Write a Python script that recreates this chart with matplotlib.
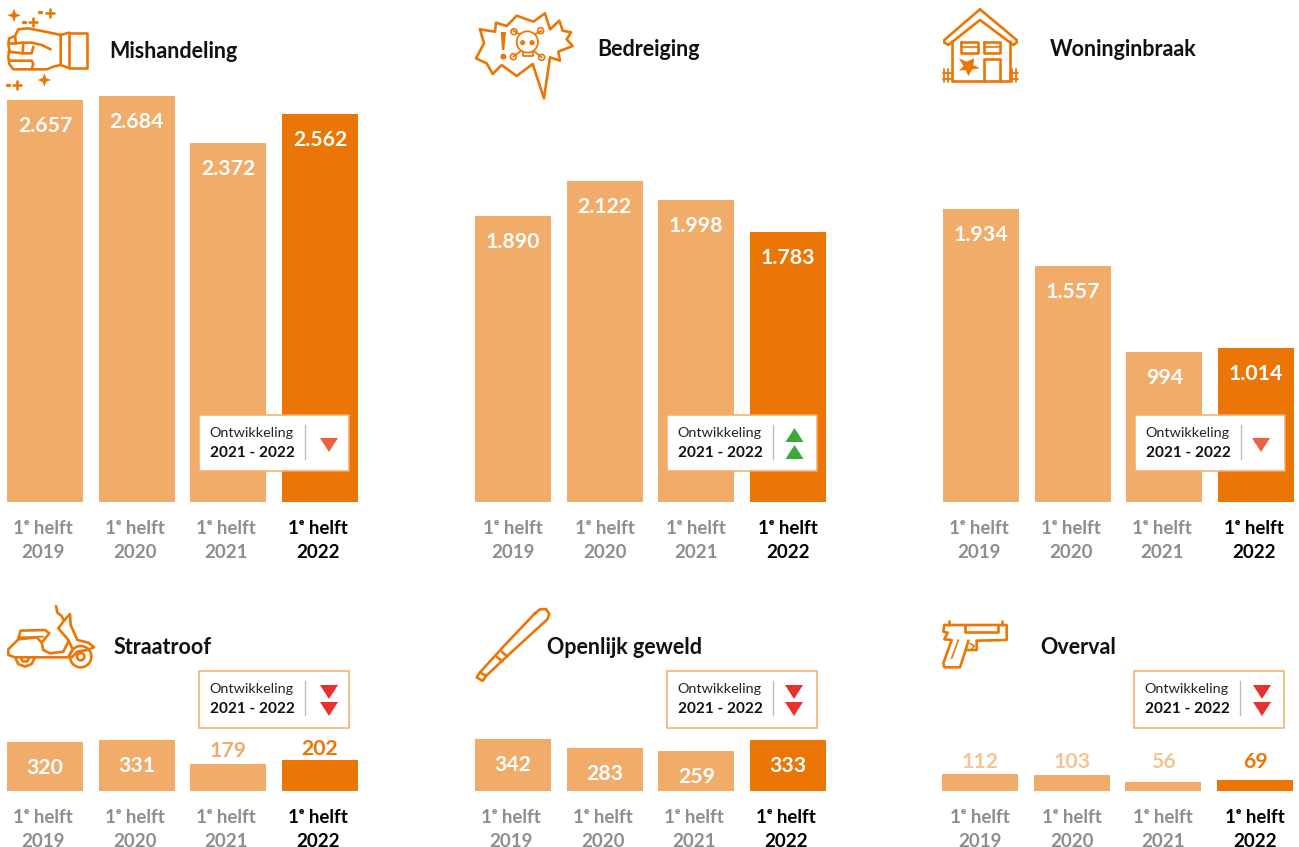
import matplotlib
matplotlib.use("Agg")
import matplotlib.pyplot as plt
from matplotlib.patches import Circle, Polygon, Rectangle

plt.rcParams['font.family'] = ['Lato', 'DejaVu Sans']

# data
titles = ["Mishandeling", "Bedreiging", "Woninginbraak", "Straatroof", "Openlijk geweld", "Overval"]
years = ["2019", "2020", "2021", "2022"]
mishandeling = [2657, 2684, 2372, 2562]
bedreiging = [1890, 2122, 1998, 1783]
woninginbraak = [1934, 1557, 994, 1014]
straatroof = [320, 331, 179, 202]
openlijk_geweld = [342, 283, 259, 333]
overval = [112, 103, 56, 69]
series = [mishandeling, bedreiging, woninginbraak, straatroof, openlijk_geweld, overval]
trend = ["down1", "up2", "down1", "down2", "down2", "down2"]

# colours
ORANGE = "#EC7605"
LIGHT = "#F2AC69"
GREY = "#8E8E8E"

W, H = 1299, 847
STEP = 275 / 3  # px between bars
BAR_W = 76

# layout in pixels, one row per panel
bar_left = [7, 475, 943, 7, 475, 942]
baseline = [502, 502, 502, 791, 791, 791]
px_per_unit = [0.1514, 0.1514, 0.1514, 0.1535, 0.1535, 0.1535]
label_shift = [-2, 0, -2, -2, -2, 0]
title_pos = [(109, 52), (597, 50), (1050, 50), (114, 648), (547, 648), (1040, 648)]
box_pos = [(199, 415), (667, 415), (1135, 415), (199, 671), (667, 671), (1134, 671)]
tri_x = [329, 794.5, 1261, 329, 794, 1262]
# gap between bar top and a label above the bar
above_gap = {179: 14, 202: 12, 112: 13, 103: 14, 56: 21, 69: 19}

fig = plt.figure(figsize=(W / 100, H / 100), dpi=100)


def panel(k):
    vals = series[k]
    top = 420
    ax = fig.add_axes([(bar_left[k] - (STEP - BAR_W) / 2) / W, 1 - baseline[k] / H,
                       4 * STEP / W, top / H])
    ax.patch.set_visible(False)
    cols = [LIGHT, LIGHT, LIGHT, ORANGE]
    ax.bar(range(4), vals, width=BAR_W / STEP, color=cols)
    ax.set_xlim(-0.5, 3.5)
    ax.set_ylim(0, top / px_per_unit[k])
    for s in ax.spines.values():
        s.set_visible(False)
    ax.set_yticks([])
    shift = label_shift[k] / STEP
    ax.set_xticks([i + shift for i in range(4)])
    ax.set_xticklabels(["1ᵉ helft\n" + y for y in years], fontsize=13.5, fontweight='bold',
                       linespacing=1.52)
    ax.tick_params(axis='x', length=0, pad=12.7)
    for i, lab in enumerate(ax.get_xticklabels()):
        lab.set_color("black" if i == 3 else GREY)
    for i, v in enumerate(vals):
        txt = f"{v:,}".replace(",", ".")
        if v >= 250:
            col, dy = "white", -26
        else:
            col, dy = (ORANGE if i == 3 else LIGHT), above_gap[v] - 1
            if v < 150 and i < 3:
                col = "#F6C393"
        ax.annotate(txt, (i, v), xytext=(0, dy * 0.72), textcoords='offset points',
                    ha='center', va='center', color=col, fontsize=15.3, fontweight='bold')


for k in range(6):
    panel(k)

# overlay in pixel coordinates for titles, boxes and icons
ov = fig.add_axes([0, 0, 1, 1], zorder=10)
ov.set_xlim(0, W)
ov.set_ylim(H, 0)
ov.axis('off')

for k in range(6):
    ov.text(title_pos[k][0], title_pos[k][1], titles[k], fontsize=15.5, fontweight='bold',
            ha='left', va='center', color="#111111")


def tri(cx, y0, y1, col, up=False):
    a, b = (y1, y0) if up else (y0, y1)
    ov.add_patch(Polygon([(cx - 9, a), (cx + 9, a), (cx, b)], closed=True, fc=col, ec='none'))


def callout(k):
    x, y = box_pos[k]
    h = 56 if y < 500 else 57
    ov.add_patch(Rectangle((x, y), 150, h, fc='white', ec=LIGHT, lw=1.1))
    ov.text(x + 10.5, y + 18, "Ontwikkeling", fontsize=10.4, ha='left', va='center', color="#222222")
    ov.text(x + 11, y + 38, "2021 - 2022", fontsize=11.1, fontweight='bold', ha='left', va='center', color="#111111")
    ov.plot([x + 106, x + 106], [y + 10, y + 44], color="#BDBDBD", lw=1)
    cx = tri_x[k]
    if trend[k] == "down1":
        tri(cx, y + 23, y + 37, "#EE6044")
    elif trend[k] == "up2":
        tri(cx, y + 13, y + 27, "#3DA73A", up=True)
        tri(cx, y + 30, y + 44, "#3DA73A", up=True)
    else:
        tri(cx, y + 14, y + 28, "#E8302F")
        tri(cx, y + 31, y + 45, "#E8302F")


for k in range(6):
    callout(k)

LW = 1.9


def path(pts, ox, oy, closed=False, lw=LW, fill=None):
    p = [(ox + a / 3, oy + b / 3) for a, b in pts]
    if closed:
        p.append(p[0])
    if fill:
        ov.add_patch(Polygon(p, closed=True, fc=fill, ec='none'))
    else:
        ov.plot([q[0] for q in p], [q[1] for q in p], color=ORANGE, lw=lw,
                solid_capstyle='round', solid_joinstyle='round')


def ring(a, b, r, ox, oy, lw=LW):
    ov.add_patch(Circle((ox + a / 3, oy + b / 3), r / 3, fc='none', ec=ORANGE, lw=lw))


def star(a, b, r, ox, oy):
    s = r * 0.28
    path([(a, b - r), (a + s, b - s), (a + r, b), (a + s, b + s), (a, b + r), (a - s, b + s),
          (a - r, b), (a - s, b - s)], ox, oy, fill=ORANGE)


def plus(a, b, r, ox, oy):
    path([(a - r, b), (a + r, b)], ox, oy)
    path([(a, b - r), (a, b + r)], ox, oy)


# fist
path([(207, 98), (260, 98), (260, 204), (207, 204)], 0, 0, closed=True)
path([(207, 98), (182, 105), (182, 195), (207, 204)], 0, 0)
path([(182, 105), (150, 98), (85, 85), (55, 88), (45, 108), (28, 115), (25, 130), (28, 150),
      (25, 170), (28, 192), (40, 208), (140, 208), (160, 200), (182, 195)], 0, 0)
path([(45, 108), (48, 130), (65, 128), (95, 128), (125, 135), (152, 148)], 0, 0)
path([(70, 128), (68, 160), (95, 160), (100, 140)], 0, 0)
path([(28, 130), (48, 130)], 0, 0)
path([(26, 155), (68, 160)], 0, 0)
path([(28, 182), (95, 182), (100, 192), (95, 206)], 0, 0)
star(42, 46, 20, 0, 0)
star(133, 240, 20, 0, 0)
plus(150, 38, 12, 0, 0)
plus(98, 67, 12, 0, 0)
plus(52, 256, 12, 0, 0)
for a, b in [(121, 37), (71, 67), (25, 254)]:
    path([(a - 3, b), (a + 3, b)], 0, 0, lw=2.4)

# threat balloon
ox = 470
path([(30, 88), (75, 95), (78, 68), (110, 78), (140, 47), (190, 65), (225, 40), (240, 88), (268, 62),
      (278, 92), (303, 97), (290, 118), (308, 138), (265, 155), (270, 182), (240, 172), (222, 295),
      (188, 192), (140, 228), (95, 195), (68, 222), (50, 190), (18, 175), (42, 130)],
     ox, 0, closed=True)
path([(92, 96), (108, 96), (103, 150), (96, 150)], ox, 0, fill=ORANGE)
ov.add_patch(Circle((ox + 100 / 3, 170 / 3), 3, fc=ORANGE, ec='none'))
ring(172, 126, 32, ox, 0, lw=1.3)
path([(158, 155), (158, 168), (188, 168), (188, 155)], ox, 0, lw=1.3)
ov.add_patch(Circle((ox + 158 / 3, 128 / 3), 2.6, fc=ORANGE, ec='none'))
ov.add_patch(Circle((ox + 186 / 3, 128 / 3), 2.6, fc=ORANGE, ec='none'))
path([(148, 102), (130, 92)], ox, 0, lw=1.3)
path([(196, 102), (215, 92)], ox, 0, lw=1.3)
path([(150, 155), (130, 170)], ox, 0, lw=1.3)
path([(194, 155), (215, 172)], ox, 0, lw=1.3)
for a, b in [(132, 95), (212, 92), (130, 170), (215, 172)]:
    ring(a, b, 9, ox, 0, lw=1.2)

# house
ox = 935
path([(135, 28), (245, 120), (245, 128), (235, 135), (135, 60), (40, 135), (28, 128), (28, 120)], ox, 0,
     closed=True)
path([(50, 122), (50, 242), (225, 242), (225, 122)], ox, 0)
path([(78, 125), (130, 125), (130, 158), (78, 158)], ox, 0, closed=True)
path([(78, 140), (130, 140)], ox, 0, lw=1.2)
path([(146, 125), (195, 125), (195, 158), (146, 158)], ox, 0, closed=True)
path([(146, 140), (195, 140)], ox, 0, lw=1.2)
path([(147, 242), (147, 178), (195, 178), (195, 242)], ox, 0)
path([(72, 175), (95, 185), (118, 175), (115, 195), (135, 205), (112, 208), (100, 228), (92, 210), (72, 212),
      (85, 198)], ox, 0, fill=ORANGE)
for a in [28, 38, 232, 244]:
    path([(a, 208), (a, 245)], ox, 0, lw=1.3)
path([(25, 220), (50, 220)], ox, 0, lw=1.3)
path([(25, 236), (50, 236)], ox, 0, lw=1.3)
path([(225, 220), (248, 220)], ox, 0, lw=1.3)
path([(225, 236), (248, 236)], ox, 0, lw=1.3)

# scooter
oy = 600
path([(168, 18), (172, 38), (185, 48), (192, 62), (175, 85), (205, 120), (218, 148), (205, 172), (45, 172),
      (25, 165), (25, 148), (55, 118), (110, 112), (125, 128), (130, 150), (150, 160), (190, 155), (205, 125)],
     0, oy)
path([(192, 62), (210, 42), (212, 75), (232, 120), (265, 128), (282, 142), (262, 150), (232, 155), (215, 172)],
     0, oy)
path([(55, 115), (62, 92), (135, 90), (148, 100), (125, 128)], 0, oy)
path([(60, 112), (130, 110)], 0, oy, lw=1.3)
ring(242, 170, 32, 0, oy)
ring(242, 170, 11, 0, oy)
path([(45, 172), (55, 192), (75, 200), (95, 192), (105, 172)], 0, oy)
path([(62, 172), (68, 184), (82, 184), (88, 172)], 0, oy)

# bat
ox, oy = 470, 600
path([(195, 40), (210, 28), (228, 27), (238, 42), (232, 58), (115, 165), (48, 228), (38, 243), (20, 232),
      (30, 217), (100, 140)], ox, oy, closed=True)
path([(30, 217), (48, 228)], ox, oy)
path([(80, 170), (97, 184)], ox, oy)
path([(95, 155), (112, 170)], ox, oy)

# gun
ox, oy = 935, 610
path([(28, 45), (215, 45), (215, 90), (125, 92), (125, 120), (92, 120), (75, 172), (28, 172), (25, 160), (50, 90),
      (28, 88), (38, 68), (25, 65)], ox, oy, closed=True)
path([(90, 45), (90, 65), (190, 65), (190, 45)], ox, oy)
path([(42, 32), (42, 45)], ox, oy)
path([(202, 32), (202, 45)], ox, oy)
path([(100, 92), (92, 120)], ox, oy)
path([(70, 90), (50, 145)], ox, oy, lw=1.2)
path([(105, 100), (118, 108), (110, 118)], ox, oy, lw=1.2)

fig.savefig("out.png", dpi=100)
